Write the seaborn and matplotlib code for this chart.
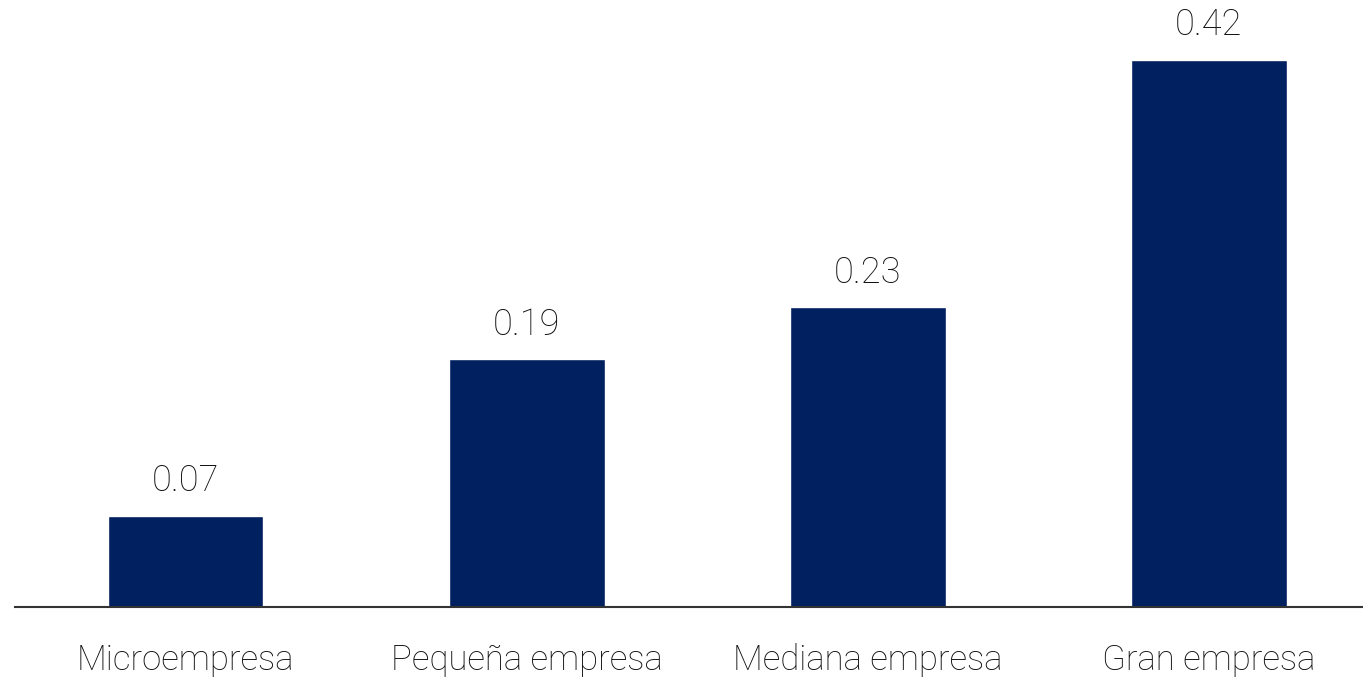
import matplotlib
matplotlib.use('Agg')
import matplotlib.pyplot as plt
import seaborn as sns
import pandas as pd

# Chart data
categories = ['Microempresa', 'Pequeña empresa', 'Mediana empresa', 'Gran empresa']
values = [0.07, 0.19, 0.23, 0.42]
value_labels = ['0.07', '0.19', '0.23', '0.42']

df = pd.DataFrame({'category': categories, 'value': values})

sns.set_style('white')
plt.rcParams['font.family'] = ['Roboto', 'DejaVu Sans']

# Setting the figure size and placing the axes by hand
fig = plt.figure(figsize=(13.63, 6.80), dpi=100)
ax = fig.add_axes([0.011, 0.1074, 0.989, 0.8926])

# Plotting the bars
sns.barplot(data=df, x='category', y='value', color='#002060', width=0.457,
            saturation=1, ax=ax)

# Value labels above each bar
for i, (v, lab) in enumerate(zip(values, value_labels)):
    ax.annotate(lab, xy=(i, v), xytext=(0, 12), textcoords='offset points',
                ha='center', va='bottom', fontsize=26, fontweight='light',
                color='#111111')

# Only the baseline is shown
ax.set_xlim(-0.5, 3.452)
ax.set_ylim(0, 0.466)
for side in ['top', 'right', 'left']:
    ax.spines[side].set_visible(False)
ax.spines['bottom'].set_color('#333333')
ax.spines['bottom'].set_linewidth(1.5)
ax.set_yticks([])
ax.set_xlabel('')
ax.set_ylabel('')
ax.tick_params(axis='x', length=0, pad=26, labelsize=25, labelcolor='#111111')
for t in ax.get_xticklabels():
    t.set_fontweight('light')

fig.savefig('out.png', dpi=100)
